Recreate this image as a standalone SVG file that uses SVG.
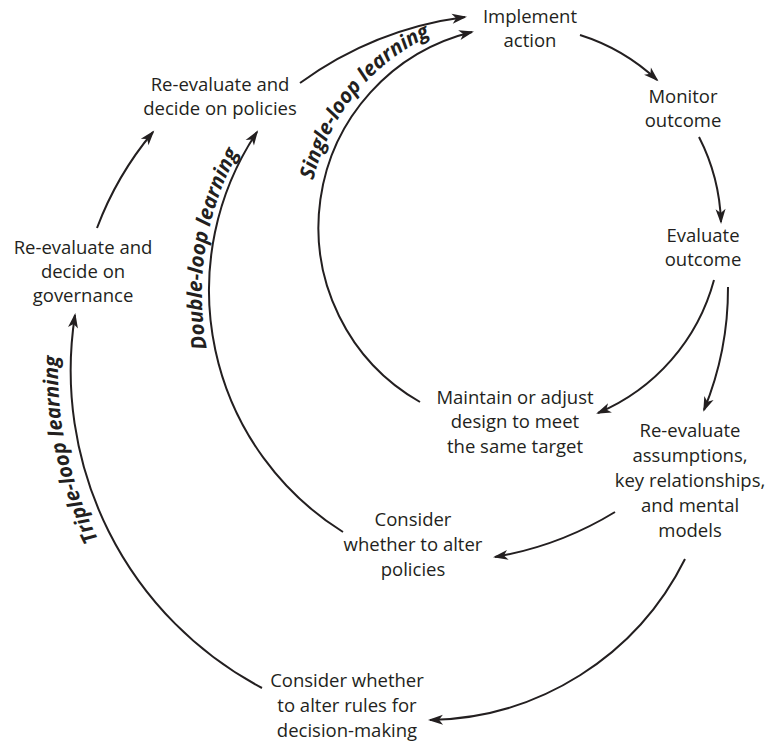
<svg xmlns="http://www.w3.org/2000/svg" width="779" height="741" viewBox="0 0 779 741">
<style>
  .lbl { font-family: "Open Sans", "Noto Sans", sans-serif; font-size: 18.5px; fill: #231f20; text-anchor: middle; }
  .loop { font-family: "Open Sans", "Noto Sans", sans-serif; font-size: 20.5px; font-weight: bold; font-style: italic; fill: #231f20; }
  .arc { fill: none; stroke: #231f20; stroke-width: 2; marker-end: url(#ah); }
</style>
<defs>
  <marker id="ah" viewBox="-14 -6 17 12" refX="0" refY="0" markerWidth="17" markerHeight="12" markerUnits="userSpaceOnUse" orient="auto">
    <path d="M2,0 L-13,-5 L-9,0 L-13,5 Z" fill="#231f20"/>
  </marker>
  <path id="pSingle" d="M313.4,180.3 A212,212 0 0 1 490.5,18.1"/>
  <path id="pDouble" d="M206.9,348.4 A295,295 0 0 1 262,116"/>
  <path id="pTriple" d="M98.4,539.4 A371,371 0 0 1 70.6,275"/>
</defs>
<rect width="779" height="741" fill="#ffffff"/>

<g id="connectors">
  <!-- single loop -->
  <path class="arc" d="M580,35 A201,201 0 0 1 657,80"/>
  <path class="arc" d="M699,137 A201,201 0 0 1 721,222"/>
  <path class="arc" d="M714,280 A201,201 0 0 1 598,413"/>
  <path class="arc" d="M420,402 A201,201 0 0 1 472,32"/>
  <!-- double loop -->
  <path class="arc" d="M728,287 A320,320 0 0 1 704,410"/>
  <path class="arc" d="M615,512 A340,340 0 0 1 495,557"/>
  <path class="arc" d="M343,532 A285,285 0 0 1 257,132"/>
  <path class="arc" d="M300,83 A360,360 0 0 1 465,17"/>
  <!-- triple loop -->
  <path class="arc" d="M685,559 A290,290 0 0 1 430,720"/>
  <path class="arc" d="M262,688 A359,359 0 0 1 75,315"/>
  <path class="arc" d="M97,228 A330,330 0 0 1 153,132"/>
</g>

<g id="loop-labels">
  <text class="loop"><textPath href="#pSingle">Single-loop learning</textPath></text>
  <text class="loop"><textPath href="#pDouble">Double-loop learning</textPath></text>
  <text class="loop"><textPath href="#pTriple">Triple-loop learning</textPath></text>
</g>

<g id="implement-action">
  <text class="lbl" x="530" y="23">Implement</text>
  <text class="lbl" x="530" y="47">action</text>
</g>
<g id="monitor-outcome">
  <text class="lbl" x="683" y="103">Monitor</text>
  <text class="lbl" x="683" y="127">outcome</text>
</g>
<g id="evaluate-outcome">
  <text class="lbl" x="703" y="242">Evaluate</text>
  <text class="lbl" x="703" y="266">outcome</text>
</g>
<g id="reevaluate-policies">
  <text class="lbl" x="220" y="91">Re-evaluate and</text>
  <text class="lbl" x="220" y="115">decide on policies</text>
</g>
<g id="reevaluate-governance">
  <text class="lbl" x="83" y="254">Re-evaluate and</text>
  <text class="lbl" x="83" y="278">decide on</text>
  <text class="lbl" x="83" y="302">governance</text>
</g>
<g id="maintain-design">
  <text class="lbl" x="515" y="404">Maintain or adjust</text>
  <text class="lbl" x="515" y="428">design to meet</text>
  <text class="lbl" x="515" y="453">the same target</text>
</g>
<g id="reevaluate-assumptions">
  <text class="lbl" x="690" y="437">Re-evaluate</text>
  <text class="lbl" x="690" y="462">assumptions,</text>
  <text class="lbl" x="690" y="487">key relationships,</text>
  <text class="lbl" x="690" y="512">and mental</text>
  <text class="lbl" x="690" y="537">models</text>
</g>
<g id="consider-policies">
  <text class="lbl" x="413" y="526">Consider</text>
  <text class="lbl" x="413" y="551">whether to alter</text>
  <text class="lbl" x="413" y="576">policies</text>
</g>
<g id="consider-rules">
  <text class="lbl" x="347" y="687">Consider whether</text>
  <text class="lbl" x="347" y="712">to alter rules for</text>
  <text class="lbl" x="347" y="737">decision-making</text>
</g>
</svg>
